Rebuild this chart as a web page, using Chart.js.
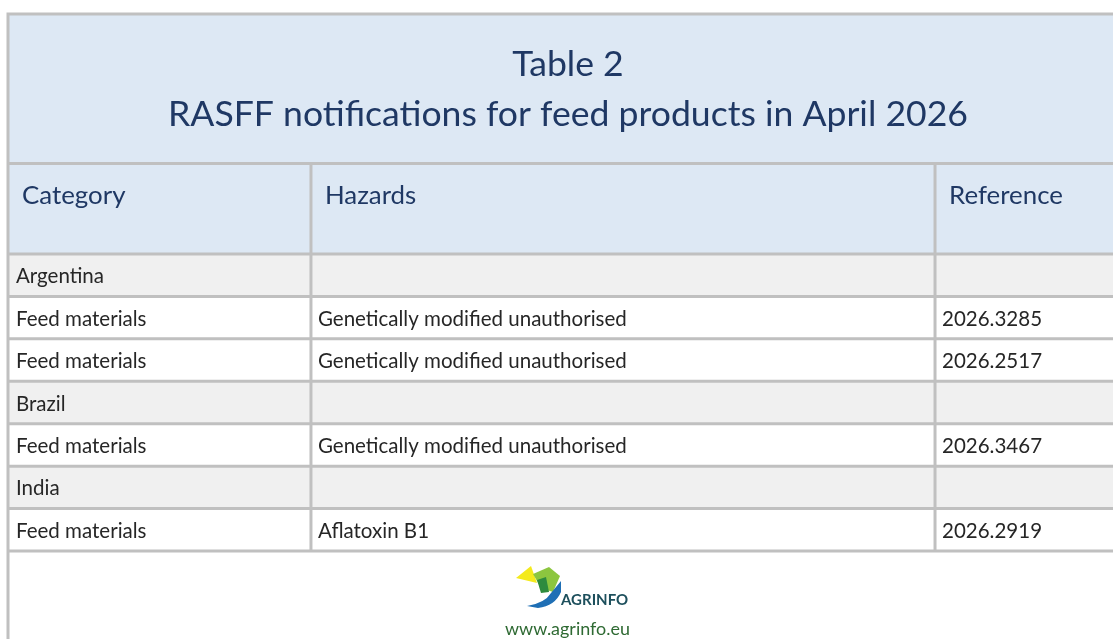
<!DOCTYPE html>
<html>
<head>
<meta charset="utf-8">
<script src="https://cdn.jsdelivr.net/npm/chart.js@4.4.1/dist/chart.umd.min.js"></script>
<style>
  html, body { margin: 0; padding: 0; overflow: hidden; background: #fff; }
  canvas { display: block; }
</style>
</head>
<body>
<canvas id="tableChart" width="1128" height="639"></canvas>
<script>
// table content
const titleLines = ['Table 2', 'RASFF notifications for feed products in April 2026'];
const columnHeaders = ['Category', 'Hazards', 'Reference'];
const categories = ['Argentina', 'Feed materials', 'Feed materials', 'Brazil', 'Feed materials', 'India', 'Feed materials'];
const hazards = ['', 'Genetically modified unauthorised', 'Genetically modified unauthorised', '', 'Genetically modified unauthorised', '', 'Aflatoxin B1'];
const references = ['', '2026.3285', '2026.2517', '', '2026.3467', '', '2026.2919'];

// layout (column edges as share of table width)
const colEdges = [0, 0.2705, 0.8277, 1];
const BORDER = '#c0c0c0';
const HEAD_BG = '#dde8f4';
const NAVY = '#1f3864';
const TEXT = '#262626';

// pick font sizes so the Lato text is as wide as in the picture
const m = document.createElement('canvas').getContext('2d');
function fitSize(text, target) {
  m.font = '100px Lato';
  return 100 * target / m.measureText(text).width;
}
const titleSize = fitSize(titleLines[1], 800);
const headSize = fitSize(columnHeaders[2], 114);
const bodySize = fitSize(hazards[1], 309);

const tablePlugin = {
  id: 'tablePlugin',
  beforeDraw(chart) {
    const ctx = chart.ctx;
    const area = chart.chartArea;
    ctx.save();
    ctx.fillStyle = HEAD_BG;
    ctx.fillRect(area.left, 14, chart.width - area.left, area.top - 14);
    ctx.restore();
  },
  afterDatasetsDraw(chart) {
    const ctx = chart.ctx;
    const x = chart.scales.x;
    const y = chart.scales.y;
    const area = chart.chartArea;
    const rowH = (area.bottom - area.top) / categories.length;
    const cols = colEdges.map(v => x.getPixelForValue(v));

    ctx.save();
    // header row text
    ctx.fillStyle = NAVY;
    ctx.font = headSize + 'px Lato';
    ctx.textBaseline = 'middle';
    columnHeaders.forEach((h, i) => {
      ctx.fillText(h, cols[i] + 14, 196);
    });

    // body text
    ctx.fillStyle = TEXT;
    ctx.font = bodySize + 'px Lato';
    categories.forEach((c, i) => {
      const cy = y.getPixelForValue(i) + 1.5;
      ctx.fillText(c, cols[0] + 8, cy);
      if (hazards[i]) ctx.fillText(hazards[i], cols[1] + 7, cy);
      if (references[i]) ctx.fillText(references[i], cols[2] + 7, cy);
    });

    // grid lines
    ctx.strokeStyle = BORDER;
    ctx.lineWidth = 3;
    ctx.beginPath();
    ctx.moveTo(area.left, 14); ctx.lineTo(chart.width, 14);
    ctx.moveTo(area.left, 163.5); ctx.lineTo(chart.width, 163.5);
    for (let i = 0; i <= categories.length; i++) {
      const ly = area.top + i * rowH;
      ctx.moveTo(area.left, ly); ctx.lineTo(chart.width, ly);
    }
    ctx.moveTo(area.left, 12.5); ctx.lineTo(area.left, chart.height);
    [1, 2].forEach(i => {
      ctx.moveTo(cols[i], 163.5); ctx.lineTo(cols[i], area.bottom);
    });
    ctx.stroke();
    ctx.restore();
  },
  afterDraw(chart) {
    // AGRINFO logo
    const ctx = chart.ctx;
    ctx.save();
    ctx.fillStyle = '#f4ea1c';
    ctx.beginPath();
    ctx.moveTo(516, 578); ctx.lineTo(531, 566); ctx.lineTo(537, 583); ctx.closePath();
    ctx.fill();
    ctx.fillStyle = '#8cc63f';
    ctx.beginPath();
    ctx.moveTo(533, 574); ctx.lineTo(549, 567); ctx.lineTo(560, 576); ctx.lineTo(553, 592); ctx.lineTo(541, 588); ctx.closePath();
    ctx.fill();
    ctx.fillStyle = '#2e8b3e';
    ctx.beginPath();
    ctx.moveTo(537, 580); ctx.lineTo(546, 577); ctx.lineTo(549, 592); ctx.lineTo(541, 593); ctx.closePath();
    ctx.fill();
    ctx.fillStyle = '#1f6fb5';
    ctx.beginPath();
    ctx.moveTo(527, 606);
    ctx.quadraticCurveTo(545, 603, 551, 593);
    ctx.lineTo(561, 581);
    ctx.lineTo(561, 592);
    ctx.quadraticCurveTo(555, 606, 538, 608);
    ctx.closePath();
    ctx.fill();
    ctx.fillStyle = '#1d4f5c';
    ctx.font = 'bold 15px Lato';
    ctx.textBaseline = 'alphabetic';
    ctx.fillText('AGRINFO', 561, 605);
    ctx.fillStyle = '#2f6a33';
    ctx.font = fitSize('www.agrinfo.eu', 125) + 'px Lato';
    ctx.fillText('www.agrinfo.eu', 505, 635);
    ctx.restore();
  }
};

new Chart(document.getElementById('tableChart'), {
  type: 'bar',
  data: {
    labels: categories,
    datasets: [{
      data: categories.map(() => [0, 1]),
      backgroundColor: hazards.map(h => h === '' ? '#f0f0f0' : '#ffffff'),
      borderWidth: 0,
      barPercentage: 1,
      categoryPercentage: 1
    }]
  },
  options: {
    responsive: false,
    animation: false,
    indexAxis: 'y',
    layout: { padding: { left: 8, top: 14, right: 0, bottom: 88 } },
    scales: {
      x: { type: 'linear', min: 0, max: 1, display: false },
      y: { type: 'category', display: false, offset: true }
    },
    plugins: {
      legend: { display: false },
      tooltip: { enabled: false },
      title: {
        display: true,
        text: titleLines,
        color: NAVY,
        font: { family: 'Lato', size: titleSize, weight: 'normal', lineHeight: '50px' },
        padding: { top: 26, bottom: 114 }
      }
    }
  },
  plugins: [tablePlugin]
});
</script>
</body>
</html>
